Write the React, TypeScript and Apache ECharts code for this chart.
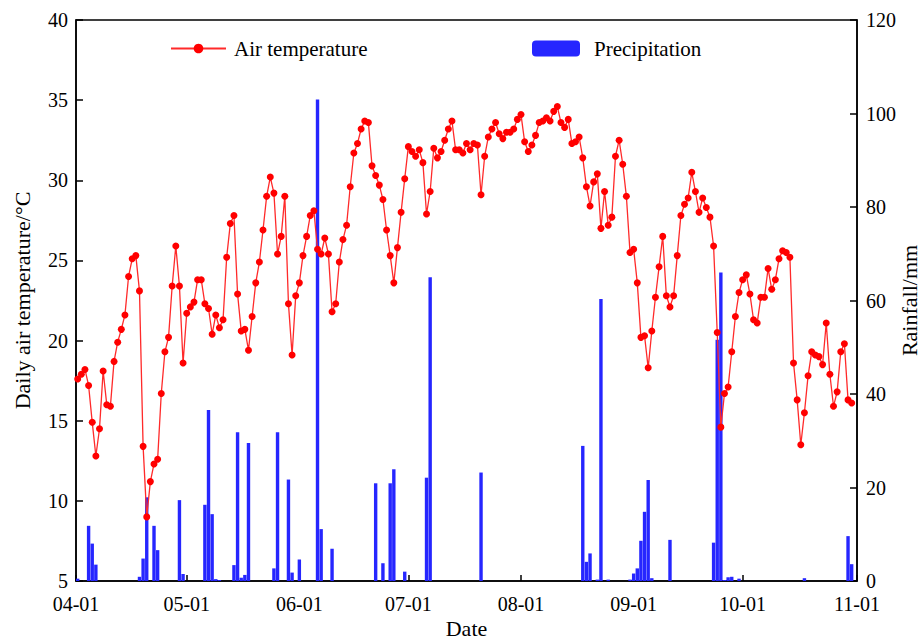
import React, { useEffect, useRef } from 'react';
import * as echarts from 'echarts';

const YEAR = 2023;
const FONT = 'Liberation Serif';
const DAY = 86400000;

// Daily air temperature (°C), 04-01 … 10-31
const temperature = [
  17.6, 17.9, 18.2, 17.2, 14.9, 12.8, 14.5, 18.1, 16.0, 15.9,
  18.7, 19.9, 20.7, 21.6, 24.0, 25.1, 25.3, 23.1, 13.4, 9.0,
  11.2, 12.3, 12.6, 16.7, 19.3, 20.2, 23.4, 25.9, 23.4, 18.6,
  21.7, 22.1, 22.4, 23.8, 23.8, 22.3, 22.0, 20.4, 21.6, 20.8,
  21.3, 25.2, 27.3, 27.8, 22.9, 20.6, 20.7, 19.4, 21.5, 23.6,
  24.9, 26.9, 29.0, 30.2, 29.2, 25.4, 26.5, 29.0, 22.3, 19.1,
  22.8, 23.6, 25.3, 26.5, 27.8, 28.1, 25.7, 25.4, 26.4, 25.4,
  21.8, 22.3, 24.9, 26.3, 27.2, 29.6, 31.7, 32.3, 33.2, 33.7,
  33.6, 30.9, 30.3, 29.7, 28.8, 26.9, 25.3, 23.6, 25.8, 28.0,
  30.1, 32.1, 31.8, 31.5, 31.9, 31.1, 27.9, 29.3, 32.0, 31.4,
  31.8, 32.5, 33.2, 33.7, 31.9, 31.9, 31.7, 32.3, 31.9, 32.3,
  32.2, 29.1, 31.5, 32.7, 33.2, 33.6, 32.9, 32.6, 33.0, 33.0,
  33.2, 33.8, 34.1, 32.4, 31.8, 32.2, 32.8, 33.6, 33.7, 33.9,
  33.7, 34.3, 34.6, 33.6, 33.3, 33.8, 32.3, 32.4, 32.7, 31.4,
  29.6, 28.4, 29.9, 30.4, 27.0, 29.3, 27.2, 27.7, 31.5, 32.5,
  31.0, 29.0, 25.5, 25.7, 23.6, 20.2, 20.3, 18.3, 20.6, 22.7,
  24.6, 26.5, 22.8, 22.1, 22.8, 25.3, 27.8, 28.5, 28.9, 30.5,
  29.3, 28.0, 28.9, 28.3, 27.7, 25.9, 20.5, 14.6, 16.7, 17.1,
  19.3, 21.5, 23.0, 23.8, 24.1, 22.9, 21.3, 21.1, 22.7, 22.7,
  24.5, 23.2, 23.8, 25.1, 25.6, 25.5, 25.2, 18.6, 16.3, 13.5,
  15.5, 17.8, 19.3, 19.1, 19.0, 18.5, 21.1, 17.9, 15.9, 16.8,
  19.3, 19.8, 16.3, 16.1,
];

// Precipitation (mm) on rainy days
const rainDates = [
  '04-01', '04-04', '04-05', '04-06', '04-18', '04-19', '04-20', '04-22', '04-23', '04-29',
  '04-30', '05-06', '05-07', '05-08', '05-09', '05-10', '05-14', '05-15', '05-16', '05-17',
  '05-18', '05-25', '05-26', '05-29', '05-30', '06-01', '06-06', '06-07', '06-10', '06-22',
  '06-24', '06-26', '06-27', '06-30', '07-06', '07-07', '07-21', '08-18', '08-19', '08-20',
  '08-22', '08-23', '08-25', '08-31', '09-01', '09-02', '09-03', '09-04', '09-05', '09-06',
  '09-11', '09-23', '09-24', '09-25', '09-26', '09-27', '09-28', '09-30', '10-18', '10-30',
  '10-31',
];
const rainValues = [
  0.5, 11.8, 8.0, 3.5, 0.9, 4.8, 17.9, 11.8, 6.6, 17.3,
  1.5, 16.3, 36.6, 14.3, 0.4, 0.2, 3.4, 31.8, 0.7, 1.3,
  29.5, 2.7, 31.8, 21.7, 1.8, 4.6, 103.0, 11.1, 6.9, 20.9,
  3.8, 20.9, 23.9, 2.0, 22.1, 65.0, 23.2, 28.9, 4.1, 5.9,
  0.3, 60.3, 0.3, 0.3, 1.6, 2.7, 8.6, 14.8, 21.6, 0.6,
  8.8, 8.2, 51.6, 66.0, 0.2, 0.8, 0.9, 0.5, 0.6, 9.6,
  3.6,
];

const axisStart = '04-01';
const axisEnd = '11-01';

const toTime = (mmdd: string) => {
  const [m, d] = mmdd.split('-').map(Number);
  return Date.UTC(YEAR, m - 1, d);
};

const pad2 = (n: number) => (n < 10 ? '0' : '') + n;
const fmtDate = (v: number) => {
  const d = new Date(Math.round(v / DAY) * DAY);
  return pad2(d.getUTCMonth() + 1) + '-' + pad2(d.getUTCDate());
};

export default function App() {
  const ref = useRef<HTMLDivElement>(null);

  useEffect(() => {
    if (!ref.current) return;
    const chart = echarts.init(ref.current, null, { renderer: 'svg' });
    const start = toTime(axisStart);
    const tempData = temperature.map((t, i) => [Date.UTC(YEAR, 3, 1 + i), t]);
    const rainData = rainDates.map((s, k) => [toTime(s), rainValues[k]]);
    const black = '#000';
    const axisLineStyle = { color: black, width: 1.5 };
    const tickStyle = { fontSize: 20, color: black, fontFamily: FONT };
    const titleStyle = { fontSize: 22, color: black, fontFamily: FONT, verticalAlign: 'middle', align: 'center' };
    const legendStyle = { fontSize: 21, color: black, fontFamily: FONT };

    chart.setOption({
      animation: false,
      useUTC: true,
      backgroundColor: '#fff',
      textStyle: { fontFamily: FONT },
      grid: {
        left: 76, right: 64, top: 20, bottom: 58,
        containLabel: false,
        outerBoundsMode: 'none',
        show: true, borderColor: black, borderWidth: 1.5, backgroundColor: 'transparent',
      },
      legend: [
        {
          data: ['Air temperature'], left: 170, top: 38, padding: 0,
          itemWidth: 55, itemHeight: 12, itemGap: 0,
          textStyle: { ...legendStyle, padding: [0, 0, 0, 3] },
        },
        {
          data: ['Precipitation'], left: 532, top: 38, padding: 0,
          itemWidth: 48, itemHeight: 16, itemGap: 0,
          textStyle: { ...legendStyle, padding: [0, 0, 0, 9] },
        },
      ],
      xAxis: {
        type: 'time',
        min: start,
        max: toTime(axisEnd),
        minInterval: 28 * DAY,
        maxInterval: 31 * DAY,
        axisLine: { lineStyle: axisLineStyle },
        axisTick: { inside: true, length: 6, lineStyle: axisLineStyle },
        axisLabel: {
          ...tickStyle, formatter: (v: number) => fmtDate(v), margin: 13, hideOverlap: false,
          showMinLabel: true, showMaxLabel: true,
        },
        splitLine: { show: false },
        name: 'Date', nameLocation: 'middle', nameGap: 47, nameMoveOverlap: false,
        nameTextStyle: titleStyle,
      },
      yAxis: [
        {
          type: 'value', min: 5, max: 40, interval: 5, position: 'left',
          axisLine: { show: true, lineStyle: axisLineStyle },
          axisTick: { show: true, inside: true, length: 7, lineStyle: axisLineStyle },
          axisLabel: { ...tickStyle, margin: 8 },
          splitLine: { show: false },
          name: 'Daily air temperature/°C', nameLocation: 'middle', nameGap: 54, nameRotate: 90,
          nameMoveOverlap: false,
          nameTextStyle: titleStyle,
        },
        {
          type: 'value', min: 0, max: 120, interval: 20, position: 'right',
          axisLine: { show: true, lineStyle: axisLineStyle },
          axisTick: { show: true, inside: true, length: 7, lineStyle: axisLineStyle },
          axisLabel: { ...tickStyle, margin: 9 },
          splitLine: { show: false },
          name: 'Rainfall/mm', nameLocation: 'middle', nameGap: 52, nameRotate: 90,
          nameMoveOverlap: false,
          nameTextStyle: titleStyle,
        },
      ],
      series: [
        {
          name: 'Air temperature', type: 'line', yAxisIndex: 0, data: tempData,
          symbol: 'circle', symbolSize: 7,
          itemStyle: { color: '#ff0000' },
          lineStyle: { color: '#ff2a2a', width: 1.3 },
        },
        {
          name: 'Precipitation', type: 'bar', yAxisIndex: 1, data: rainData,
          barWidth: 3.4, itemStyle: { color: '#2626ff' },
        },
      ],
    });

    return () => chart.dispose();
  }, []);

  return (
    <div
      ref={ref}
      style={{ position: 'fixed', left: 0, top: 0, width: 921, height: 639, background: '#fff' }}
    />
  );
}
